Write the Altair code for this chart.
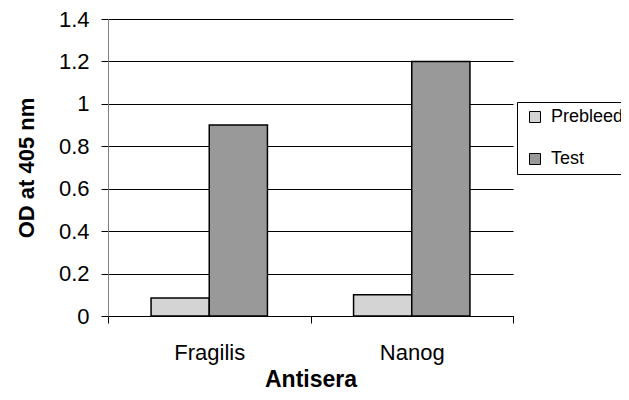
import altair as alt
import pandas as pd

antisera = ["Fragilis", "Nanog"]
series = ["Prebleed", "Test"]
prebleed = [0.085, 0.1]
test = [0.9, 1.2]
y_ticks = [0, 0.2, 0.4, 0.6, 0.8, 1.0, 1.2, 1.4]
colors = ["#d4d4d4", "#999999"]

rows = []
for i, a in enumerate(antisera):
    rows.append({"antisera": a, "series": series[0], "od": prebleed[i]})
    rows.append({"antisera": a, "series": series[1], "od": test[i]})
df = pd.DataFrame(rows)

FONT = "Liberation Sans"

chart = alt.Chart(df).mark_bar(stroke="black", strokeWidth=1.5).encode(
    x=alt.X(
        "antisera:N", sort=antisera, title="Antisera",
        scale=alt.Scale(paddingInner=0, paddingOuter=0),
        axis=alt.Axis(
            labelAngle=0, tickBand="extent", ticks=True, tickSize=7,
            tickColor="black", tickWidth=1, domainColor="black", domainWidth=1,
            labelFontSize=22, labelPadding=19, labelFont=FONT, labelColor="black",
            titleFont=FONT, titleFontSize=23, titleFontWeight="bold",
            titleColor="black", titleBaseline="alphabetic", titleY=70, titleX=202.5,
            grid=False,
        ),
    ),
    xOffset=alt.XOffset(
        "series:N", sort=series,
        scale=alt.Scale(paddingInner=0, paddingOuter=0.74),
    ),
    y=alt.Y(
        "od:Q", title="OD at 405 nm",
        scale=alt.Scale(domain=[0, 1.4], nice=False),
        axis=alt.Axis(
            values=y_ticks, format="~g", tickSize=7, tickColor="black",
            domainColor="#808080", domainWidth=1,
            labelFontSize=22, labelPadding=12, labelFont=FONT, labelColor="black",
            grid=True, gridColor="black", gridWidth=1, gridOpacity=1,
            titleFont=FONT, titleFontSize=22, titleFontWeight="bold",
            titleColor="black", titleBaseline="alphabetic",
            titleX=-75, titleY=148.5,
        ),
    ),
    color=alt.Color(
        "series:N", sort=series, title=None,
        scale=alt.Scale(domain=series, range=colors),
        legend=alt.Legend(
            orient="none", legendX=409, legendY=83,
            strokeColor="black", fillColor="white", padding=4,
            symbolType="square", symbolSize=121, symbolStrokeColor="black",
            symbolStrokeWidth=1, symbolOffset=5,
            labelFont=FONT, labelFontSize=18, labelColor="black",
            labelOffset=7, labelLimit=300, rowPadding=20, clipHeight=22,
        ),
    ),
).properties(
    width=405, height=297,
    autosize=alt.AutoSizeParams(type="none"),
    padding={"left": 100, "top": 11, "right": 108, "bottom": 76},
).configure_view(stroke="transparent")

chart.save("out.html", embed_options={"renderer": "svg", "actions": False})
